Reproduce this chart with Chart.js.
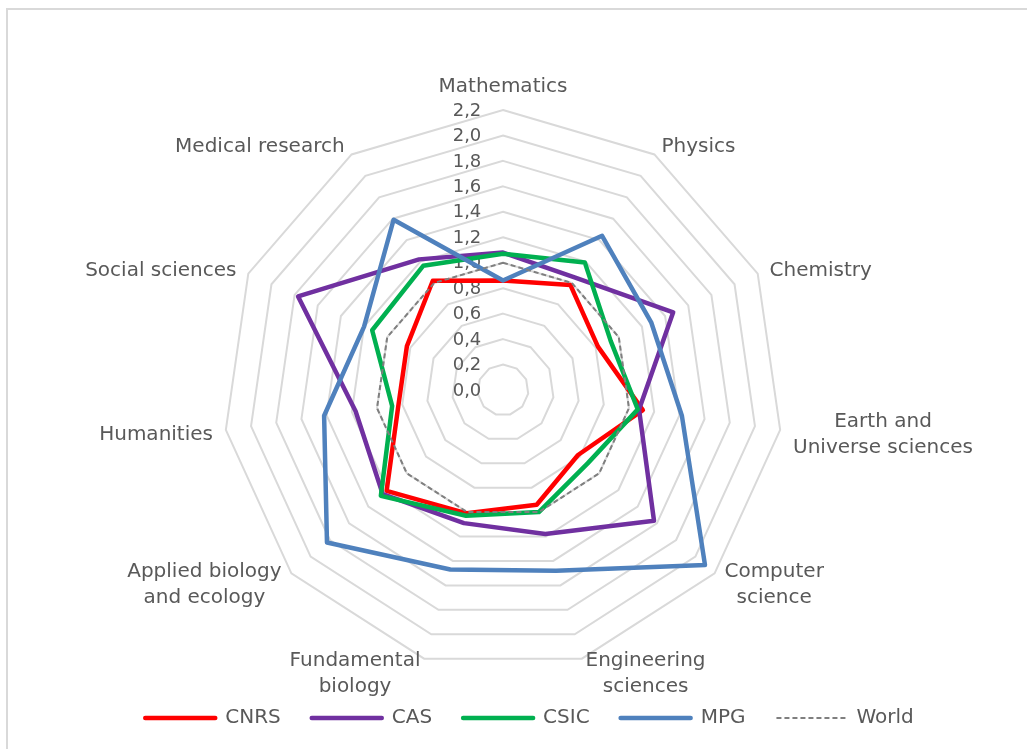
<!DOCTYPE html>
<html><head><meta charset="utf-8">
<script src="https://cdn.jsdelivr.net/npm/chart.js@4.4.1/dist/chart.umd.min.js"></script>
<style>html,body{margin:0;padding:0;background:#fff}canvas{display:block}</style>
</head><body>
<canvas id="c" width="1027" height="749"></canvas>
<script>
const categories = [["Mathematics"],["Physics"],["Chemistry"],["Earth and","Universe sciences"],["Computer","science"],["Engineering","sciences"],["Fundamental","biology"],["Applied biology","and ecology"],["Humanities"],["Social sciences"],["Medical research"]];
const cnrs  = [0.86, 0.98, 0.82, 1.11, 0.78, 0.94, 1.01, 1.21, 0.83, 0.83, 1.02];
const cas   = [1.08, 1.05, 1.47, 1.08, 1.57, 1.18, 1.09, 1.25, 1.17, 1.77, 1.22];
const csic  = [1.07, 1.19, 0.93, 1.07, 0.88, 1.00, 1.03, 1.27, 0.88, 1.13, 1.16];
const mpg   = [0.86, 1.44, 1.28, 1.42, 2.10, 1.48, 1.47, 1.83, 1.42, 1.20, 1.59];
const world = [1, 1, 1, 1, 1, 1, 1, 1, 1, 1, 1];
const tickValues = [0, 0.2, 0.4, 0.6, 0.8, 1.0, 1.2, 1.4, 1.6, 1.8, 2.0, 2.2];
const tickLabels = ["0,0","0,2","0,4","0,6","0,8","1,0","1,2","1,4","1,6","1,8","2,0","2,2"];

const FONT = '"DejaVu Sans", sans-serif';
const TXT = '#595959';

const excelPlugin = {
  id: 'excelLook',
  beforeDraw(chart) {
    const ctx = chart.ctx;
    ctx.save();
    ctx.strokeStyle = '#d9d9d9';
    ctx.lineWidth = 2;
    ctx.beginPath();
    ctx.moveTo(7, 760); ctx.lineTo(7, 9); ctx.lineTo(1040, 9);
    ctx.stroke();
    ctx.restore();
  },
  beforeDatasetsDraw(chart) {
    const ctx = chart.ctx;
    const s = chart.scales.r;
    ctx.save();
    ctx.fillStyle = TXT;
    ctx.textAlign = 'center';
    ctx.textBaseline = 'middle';
    ctx.font = '18px ' + FONT;
    tickValues.forEach((v, i) => {
      const d = s.getDistanceFromCenterForValue(v);
      ctx.fillText(tickLabels[i], s.xCenter - 36, s.yCenter - d + 1);
    });
    ctx.font = '20px ' + FONT;
    const lh = 26;
    categories.forEach((lines, i) => {
      const p = s.getPointPosition(i, s.drawingArea + 13);
      const a = s.getIndexAngle(i);
      const sx = Math.sin(a), cy = Math.cos(a);
      const w = Math.max(...lines.map(l => ctx.measureText(l).width));
      const h = lines.length * lh;
      let left, top;
      if (Math.abs(sx) < 0.01) { left = p.x - w / 2; top = cy > 0 ? p.y - h : p.y; }
      else { left = sx > 0 ? p.x : p.x - w; top = p.y - h / 2; }
      lines.forEach((l, k) => ctx.fillText(l, left + w / 2, top + lh * (k + 0.5) + 3));
    });
    ctx.restore();
  }
};

function series(label, data, color, width, order, dash) {
  return {
    label, data, order,
    borderColor: color, backgroundColor: color,
    borderWidth: width, borderDash: dash || [],
    borderJoinStyle: dash ? 'miter' : 'round',
    borderCapStyle: dash ? 'butt' : 'round',
    fill: false, pointRadius: 0, pointHoverRadius: 0, tension: 0
  };
}

new Chart(document.getElementById('c'), {
  type: 'radar',
  data: {
    labels: categories,
    datasets: [
      series('CNRS', cnrs, '#FF0000', 4.5, 4),
      series('CAS', cas, '#7030A0', 4.5, 3),
      series('CSIC', csic, '#00B050', 4.5, 2),
      series('MPG', mpg, '#4F81BD', 4.5, 1),
      series('World', world, '#7f7f7f', 2, 0, [5, 3])
    ]
  },
  options: {
    responsive: false,
    animation: false,
    events: [],
    layout: { padding: { left: 32, right: 0, top: 0, bottom: 11 } },
    plugins: {
      tooltip: { enabled: false },
      legend: {
        position: 'bottom',
        labels: {
          usePointStyle: true,
          pointStyle: 'line',
          pointStyleWidth: 70,
          padding: 31,
          color: TXT,
          font: { family: FONT, size: 20 },
          sort: (a, b) => a.datasetIndex - b.datasetIndex,
          generateLabels(chart) {
            const items = Chart.defaults.plugins.legend.labels.generateLabels(chart);
            items.forEach(it => {
              const ds = chart.data.datasets[it.datasetIndex];
              it.lineDash = ds.borderDash;
              it.lineWidth = ds.borderWidth;
              it.lineCap = ds.borderCapStyle;
              it.strokeStyle = ds.borderColor;
              it.pointStyle = 'line';
            });
            return items;
          }
        }
      }
    },
    scales: {
      r: {
        min: 0, max: 2.2,
        ticks: { stepSize: 0.2, display: false },
        grid: { color: '#d9d9d9', lineWidth: 2, circular: false },
        angleLines: { display: false },
        pointLabels: { display: false },
        afterFit(scale) { scale.xCenter = 503; scale.yCenter = 390; scale.drawingArea = 280; }
      }
    }
  },
  plugins: [excelPlugin]
});
</script>
</body></html>
